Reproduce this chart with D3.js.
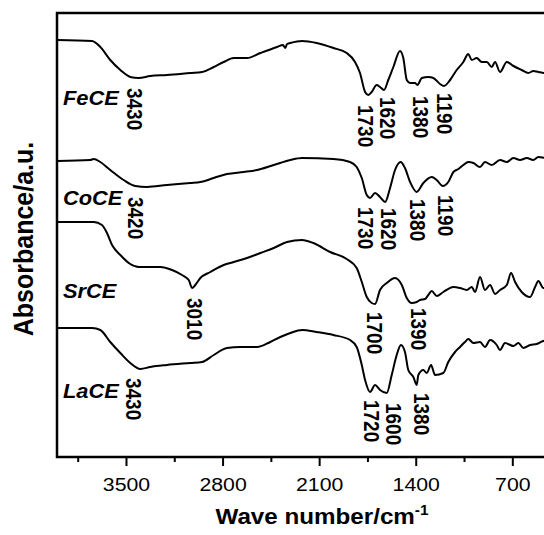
<!DOCTYPE html>
<html>
<head>
<meta charset="utf-8">
<script src="https://cdn.jsdelivr.net/npm/d3@7/dist/d3.min.js"></script>
<style>
  html, body { margin: 0; padding: 0; background: #fff; }
  svg { display: block; font-family: "Liberation Sans", Arial, sans-serif; }
  .spectrum { fill: none; stroke: #000; stroke-width: 2; stroke-linejoin: round; }
  .axis path, .axis line { stroke: #000; stroke-width: 2; }
</style>
</head>
<body>
<svg id="chart" width="544" height="535"></svg>
<script>
// FT-IR spectra, [wavenumber cm-1, absorbance a.u.] (stacked, arbitrary offsets)
const feCE = [[4000,417],[3746,416],[3686,410],[3614,397],[3541,387],[3469,380],[3408,379],[3324,381],[3203,382],[3034,384],[2949,385],[2864,390],[2792,395],[2719,399],[2623,399],[2526,404],[2405,410],[2362,412],[2345,409],[2333,413],[2309,414],[2224,416],[2118,414],[1997,409],[1900,404],[1840,395],[1804,384],[1767,365],[1744,362],[1719,365],[1683,372],[1659,370],[1630,367],[1599,377],[1562,390],[1514,406],[1490,399],[1465,377],[1441,374],[1405,374],[1388,372],[1356,379],[1309,380],[1272,379],[1224,373],[1195,371],[1151,377],[1103,387],[1055,395],[1019,403],[994,397],[958,399],[922,395],[885,395],[849,390],[825,395],[789,385],[740,395],[692,391],[632,387],[584,384],[548,386],[511,385],[463,384],[400,384]]

const coCE = [[4000,296],[3759,297],[3734,298],[3686,295],[3614,287],[3517,277],[3432,271],[3348,270],[3203,272],[3034,274],[2961,275],[2864,279],[2768,283],[2647,285],[2550,287],[2429,292],[2309,297],[2224,299],[1997,298],[1876,295],[1828,290],[1791,279],[1755,262],[1731,259],[1695,264],[1659,260],[1622,255],[1586,269],[1550,287],[1509,295],[1478,289],[1441,275],[1393,265],[1345,274],[1284,280],[1248,277],[1204,271],[1164,275],[1127,285],[1091,288],[1055,292],[1019,295],[982,294],[934,290],[898,295],[849,292],[789,297],[740,295],[692,299],[644,297],[595,299],[548,297],[511,300],[463,299],[400,298]]

const srCE = [[4000,235],[3734,235],[3674,232],[3638,224],[3601,212],[3541,202],[3469,193],[3408,190],[3324,190],[3251,190],[3166,187],[3094,182],[3045,177],[3021,169],[2998,172],[2961,179],[2889,185],[2792,192],[2719,195],[2623,199],[2526,204],[2429,209],[2333,215],[2224,217],[2142,214],[2021,205],[1900,198],[1828,189],[1791,175],[1755,160],[1719,154],[1695,153],[1659,167],[1610,174],[1550,179],[1501,172],[1465,159],[1429,154],[1393,155],[1369,157],[1333,158],[1309,162],[1284,166],[1248,161],[1200,165],[1127,170],[1079,169],[1030,167],[994,170],[970,165],[934,180],[898,167],[861,172],[825,163],[789,167],[740,172],[709,184],[680,175],[632,165],[571,160],[535,170],[511,176],[475,169],[400,170]]

const laCE = [[4000,129],[3746,129],[3686,127],[3614,115],[3541,104],[3469,94],[3396,88],[3324,90],[3203,92],[3034,94],[2949,95],[2864,102],[2768,109],[2671,110],[2550,110],[2454,115],[2381,120],[2309,124],[2224,127],[2118,125],[1997,122],[1876,117],[1828,110],[1791,92],[1767,77],[1731,65],[1695,72],[1659,67],[1610,64],[1574,82],[1538,102],[1507,112],[1478,105],[1454,87],[1417,80],[1393,72],[1381,82],[1345,87],[1320,84],[1289,92],[1260,82],[1200,84],[1164,95],[1115,105],[1079,110],[1043,115],[1019,118],[982,114],[934,115],[898,110],[861,117],[813,112],[789,107],[753,114],[692,111],[656,114],[620,109],[571,112],[523,113],[475,116],[400,117]]

const seriesNames = ['FeCE', 'CoCE', 'SrCE', 'LaCE']
const seriesData = [feCE, coCE, srCE, laCE]
const nameLevels = [352, 252, 159, 59] // baseline of the sample name, a.u.

// band labels: text, where it sits (cm-1) and the a.u. level of its top
const bandLabels = [
  { text: '3430', at: 3438, level: 369 },
  { text: '1730', at: 1763, level: 352 },
  { text: '1620', at: 1604, level: 360 },
  { text: '1380', at: 1364, level: 361 },
  { text: '1190', at: 1188, level: 364 },
  { text: '3420', at: 3428, level: 260 },
  { text: '1730', at: 1763, level: 250 },
  { text: '1620', at: 1599, level: 249 },
  { text: '1380', at: 1388, level: 258 },
  { text: '1190', at: 1183, level: 262 },
  { text: '3010', at: 3000, level: 159 },
  { text: '1700', at: 1696, level: 145 },
  { text: '1390', at: 1381, level: 149 },
  { text: '3430', at: 3445, level: 79 },
  { text: '1720', at: 1720, level: 57 },
  { text: '1600', at: 1558, level: 54 },
  { text: '1380', at: 1357, level: 64 }
]

const majorTicks = [3500, 2800, 2100, 1400, 700]
const minorTicks = [3850, 3150, 2450, 1750, 1050, 350]

const margin = { top: 13, left: 57, bottom: 78 }
const height = 535
const stretch = 1.12 // the figure's text is a little wider than tall

const svg = d3.select('#chart')

const x = d3.scaleLinear()
  .domain([4000, 400])
  .range([margin.left, 553.7])

const y = d3.scaleLinear()
  .domain([0, 444])
  .range([height - margin.bottom, margin.top])

const line = d3.line()
  .x((d) => x(d[0]))
  .y((d) => y(d[1]))
  .curve(d3.curveMonotoneX)

svg.selectAll('.spectrum')
  .data(seriesData)
  .enter()
  .append('path')
    .attr('class', 'spectrum')
    .attr('d', line)

// frame (right side falls outside the picture)
svg.append('rect')
  .attr('x', x(4000))
  .attr('y', y(444))
  .attr('width', x(400) - x(4000))
  .attr('height', y(0) - y(444))
  .attr('fill', 'none')
  .attr('stroke', '#000')
  .attr('stroke-width', 2.5)

const xAxis = svg.append('g')
  .attr('class', 'axis')
  .attr('transform', `translate(0,${y(0)})`)
  .call(d3.axisBottom(x).tickValues(majorTicks).tickSize(9).tickSizeOuter(0).tickPadding(12).tickFormat(d3.format('d')))

xAxis.select('.domain').remove()
xAxis.selectAll('text')
  .attr('fill', '#000')
  .style('font-size', '19px')
  .attr('transform', `scale(${stretch},1)`)

svg.append('g')
  .attr('class', 'axis')
  .attr('transform', `translate(0,${y(0)})`)
  .call(d3.axisBottom(x).tickValues(minorTicks).tickSize(5).tickSizeOuter(0).tickFormat(''))
  .select('.domain').remove()

// sample names
svg.selectAll('.name')
  .data(seriesNames)
  .enter()
  .append('text')
    .attr('class', 'name')
    .attr('transform', (d, i) => `translate(63,${y(nameLevels[i])}) scale(${stretch},1)`)
    .style('font-size', '19.5px')
    .style('font-weight', 'bold')
    .style('font-style', 'italic')
    .text((d) => d)

// band assignments, written downwards
const capH = 0.716 * 19 * stretch
svg.selectAll('.band')
  .data(bandLabels)
  .enter()
  .append('text')
    .attr('class', 'band')
    .attr('transform', (d) => `translate(${x(d.at) - capH / 2},${y(d.level)}) scale(${stretch},1) rotate(90)`)
    .style('font-size', '19px')
    .style('font-weight', 'bold')
    .text((d) => d.text)

// axis titles
svg.append('text')
  .attr('transform', `translate(33,239) scale(${stretch},1) rotate(-90)`)
  .attr('text-anchor', 'middle')
  .style('font-size', '25px')
  .style('font-weight', 'bold')
  .text('Absorbance/a.u.')

const xTitle = svg.append('text')
  .attr('transform', `translate(322,524) scale(1.1,1)`)
  .attr('text-anchor', 'middle')
  .style('font-size', '22px')
  .style('font-weight', 'bold')
xTitle.append('tspan').text('Wave number/cm')
xTitle.append('tspan')
  .attr('dy', -9)
  .style('font-size', '14px')
  .text('-1')
</script>
</body>
</html>
